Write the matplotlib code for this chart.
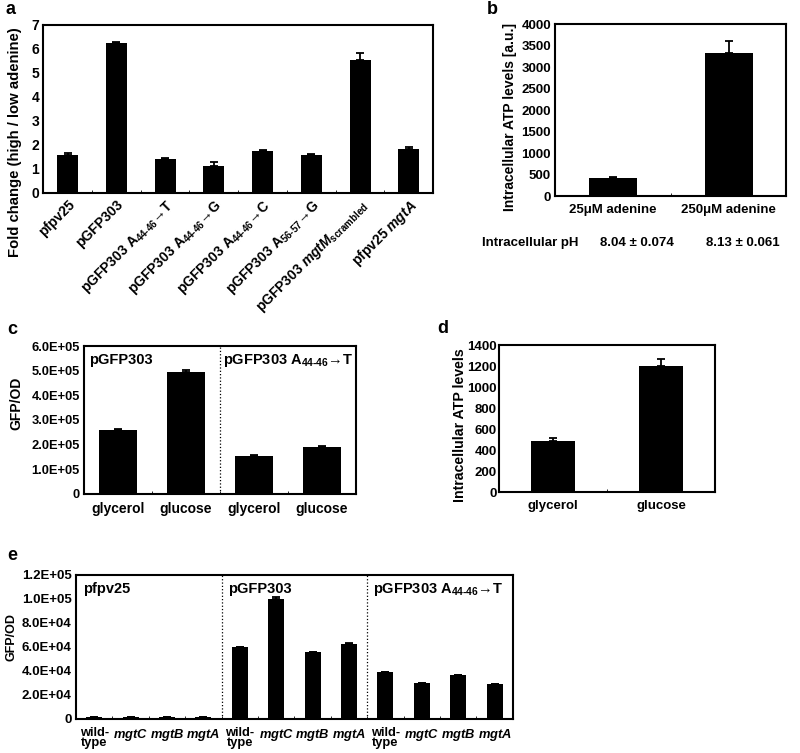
import numpy as np
import matplotlib
matplotlib.use('Agg')
from matplotlib import pyplot as plt

plt.rcParams['font.family'] = ['Liberation Sans', 'DejaVu Sans']
plt.rcParams['font.weight'] = 'bold'
plt.rcParams['mathtext.fontset'] = 'custom'
plt.rcParams['mathtext.rm'] = 'Liberation Sans:bold'
plt.rcParams['mathtext.it'] = 'Liberation Sans:italic:bold'
plt.rcParams['mathtext.bf'] = 'Liberation Sans:bold'
plt.rcParams['axes.linewidth'] = 1.5

# panel a: fold change high / low adenine
a_labels = ['pfpv25', 'pGFP303',
            r'pGFP303 A$_{\text{44-46}}$→T',
            r'pGFP303 A$_{\text{44-46}}$→G',
            r'pGFP303 A$_{\text{44-46}}$→C',
            r'pGFP303 A$_{\text{56-57}}$→G',
            r'pGFP303 $\mathit{mgtM}_{\text{scrambled}}$',
            r'pfpv25 $\mathit{mgtA}$']
a_values = [1.58, 6.24, 1.40, 1.12, 1.75, 1.57, 5.54, 1.83]
a_err = [0.10, 0.04, 0.05, 0.16, 0.05, 0.06, 0.31, 0.07]

# panel b: ATP at two adenine levels
b_labels = ['25μM adenine', '250μM adenine']
b_values = [411, 3318]
b_err = [24, 287]
b_ph = ['8.04 ± 0.074', '8.13 ± 0.061']

# panel c: GFP/OD on glycerol / glucose
c_labels = ['glycerol', 'glucose', 'glycerol', 'glucose']
c_values = [2.58e5, 4.95e5, 1.55e5, 1.90e5]
c_err = [0.07e5, 0.06e5, 0.02e5, 0.03e5]
c_yticks = [0, 1e5, 2e5, 3e5, 4e5, 5e5, 6e5]
c_yticklabels = ['0', '1.0E+05', '2.0E+05', '3.0E+05', '4.0E+05', '5.0E+05', '6.0E+05']

# panel d: ATP on glycerol / glucose
d_labels = ['glycerol', 'glucose']
d_values = [489, 1200]
d_err = [25, 64]

# panel e: GFP/OD in mutant backgrounds
e_labels = ['wild-\ntype', r'$\mathit{mgtC}$', r'$\mathit{mgtB}$', r'$\mathit{mgtA}$'] * 3
e_values = [1800, 1500, 1700, 1700,
            59700, 99700, 55600, 62800,
            38900, 29700, 36700, 28900]
e_err = [150, 150, 150, 150, 400, 1800, 500, 400, 300, 200, 250, 200]
e_yticks = [0, 2e4, 4e4, 6e4, 8e4, 1e5, 1.2e5]
e_yticklabels = ['0', '2.0E+04', '4.0E+04', '6.0E+04', '8.0E+04', '1.0E+05', '1.2E+05']
plasmids = ['pfpv25', 'pGFP303', r'pGFP303 A$_{\text{44-46}}$→T']


def bar_panel(ax, values, err, width):
    """draws black bars with upward-only error bars, excel style"""
    x = np.arange(len(values))
    ax.bar(x, values, width=width, color='black', zorder=2)
    ax.errorbar(x, values, yerr=[np.zeros(len(err)), err], fmt='none',
                ecolor='black', elinewidth=1.3, capsize=3, capthick=1.3, zorder=3)
    ax.set_xlim(-0.5, len(values) - 0.5)
    ax.set_xticks(x)
    ax.set_xticks(np.arange(0.5, len(values) - 0.5), minor=True)
    ax.tick_params(axis='x', which='major', length=0, pad=6)
    ax.tick_params(axis='x', which='minor', direction='in', length=2, width=0.6)
    ax.tick_params(axis='y', length=0, pad=3)
    return x


fig = plt.figure(figsize=(8, 7.53), dpi=100)

# a
ax_a = fig.add_axes([0.054, 0.7437, 0.4875, 0.2231])
bar_panel(ax_a, a_values, a_err, 0.43)
ax_a.set_ylim(0, 7)
ax_a.set_yticks(range(0, 8))
ax_a.tick_params(axis='y', labelsize=10)
ax_a.set_xticklabels(a_labels, rotation=45, ha='right', va='top',
                     rotation_mode='anchor', fontsize=10)
ax_a.tick_params(axis='x', which='major', pad=3)
ax_a.set_ylabel('Fold change (high / low adenine)', fontsize=10.7, fontweight='bold')
ax_a.yaxis.set_label_coords(-0.054, 0.30)

# b
ax_b = fig.add_axes([0.694, 0.7397, 0.289, 0.2284])
bar_panel(ax_b, b_values, b_err, 0.415)
ax_b.set_ylim(0, 4000)
ax_b.set_yticks(range(0, 4001, 500))
ax_b.tick_params(axis='y', labelsize=9.5)
ax_b.set_xticklabels(b_labels, fontsize=9.5)
ax_b.set_ylabel('Intracellular ATP levels [a.u.]', fontsize=10, fontweight='bold')
ax_b.yaxis.set_label_coords(-0.165, 0.46)
fig.text(530 / 800, 1 - 243 / 753, 'Intracellular pH', ha='center', va='center',
         fontsize=9.5)
for xpix, s in zip([637, 743], b_ph):
    fig.text(xpix / 800, 1 - 243 / 753, s, ha='center', va='center', fontsize=9.5)

# c
ax_c = fig.add_axes([0.105, 0.344, 0.34, 0.1965])
bar_panel(ax_c, c_values, c_err, 0.55)
ax_c.set_ylim(0, 6e5)
ax_c.set_yticks(c_yticks)
ax_c.set_yticklabels(c_yticklabels, fontsize=9.3)
ax_c.set_xticklabels(c_labels, fontsize=10)
ax_c.set_ylabel('GFP/OD', fontsize=10, fontweight='bold')
ax_c.yaxis.set_label_coords(-0.224, 0.61)
ax_c.axvline(1.5, color='black', linestyle=':', linewidth=0.9)
ax_c.text(0.02, 0.905, 'pGFP303', transform=ax_c.transAxes, va='center', fontsize=10.5)
ax_c.text(0.51, 0.905, r'pGFP303 A$_{\text{44-46}}$→T', transform=ax_c.transAxes,
          va='center', fontsize=10.5)

# d
ax_d = fig.add_axes([0.624, 0.3466, 0.27, 0.1952])
bar_panel(ax_d, d_values, d_err, 0.41)
ax_d.set_ylim(0, 1400)
ax_d.set_yticks(range(0, 1401, 200))
ax_d.tick_params(axis='y', labelsize=9.5, pad=1.5)
ax_d.set_xticklabels(d_labels, fontsize=9.5)
ax_d.set_ylabel('Intracellular ATP levels', fontsize=10.2, fontweight='bold')
ax_d.yaxis.set_label_coords(-0.15, 0.456)

# e
ax_e = fig.add_axes([0.095, 0.0452, 0.546, 0.1912])
bar_panel(ax_e, e_values, e_err, 0.44)
ax_e.set_ylim(0, 1.2e5)
ax_e.set_yticks(e_yticks)
ax_e.set_yticklabels(e_yticklabels, fontsize=9.5)
ax_e.set_xticklabels(e_labels, fontsize=9.3, linespacing=0.75)
ax_e.set_ylabel('GFP/OD', fontsize=9, fontweight='bold')
ax_e.yaxis.set_label_coords(-0.135, 0.57)
for xv in [3.5, 7.5]:
    ax_e.axvline(xv, color='black', linestyle=':', linewidth=0.9)
for xpos, name in zip([0.016, 0.348, 0.68], plasmids):
    ax_e.text(xpos, 0.90, name, transform=ax_e.transAxes, va='center', fontsize=10.5)

# panel letters
for letter, (px, py) in zip('abcde', [(10, 10), (492, 10), (12, 329), (443, 328), (12, 555)]):
    fig.text(px / 800, 1 - py / 753, letter, ha='center', va='center',
             fontsize=13, fontweight='bold')

fig.savefig('out.png', dpi=100)
